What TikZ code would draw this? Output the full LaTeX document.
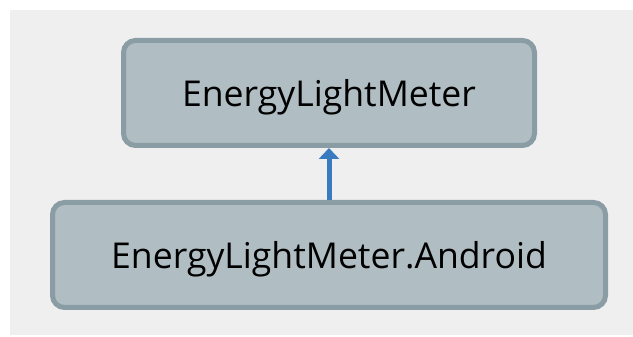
\documentclass[tikz,border=0pt]{standalone}
\usepackage{fontspec}
\setmainfont{Open Sans}
\usetikzlibrary{arrows.meta}
\definecolor{bgc}{HTML}{EFEFEF}
\definecolor{boxfill}{HTML}{B0BEC3}
\definecolor{boxdraw}{HTML}{8A9CA4}
\definecolor{arrc}{HTML}{3A7BBF}
\begin{document}
\begin{tikzpicture}[x=1pt,y=1pt,
  modbox/.style={draw=boxdraw, fill=boxfill, line width=5pt, rounded corners=12pt,
    minimum height=105pt, inner sep=0pt, font=\fontsize{35.6}{42}\selectfont, text=black},
  dep/.style={draw=arrc, line width=5pt, -{Triangle[width=20pt,length=11pt]}}]
\useasboundingbox (0,0) rectangle (633,337);
\fill[bgc] (10,2) rectangle (633,327);
\node[modbox, minimum width=411pt] (top) at (329,244) {\raisebox{-14pt}[0pt][0pt]{EnergyLightMeter}};
\node[modbox, minimum width=553pt] (bot) at (329,82) {\raisebox{-14pt}[0pt][0pt]{EnergyLightMeter.Android}};
\draw[dep] (bot.north) -- (top.south);
\end{tikzpicture}
\end{document}
